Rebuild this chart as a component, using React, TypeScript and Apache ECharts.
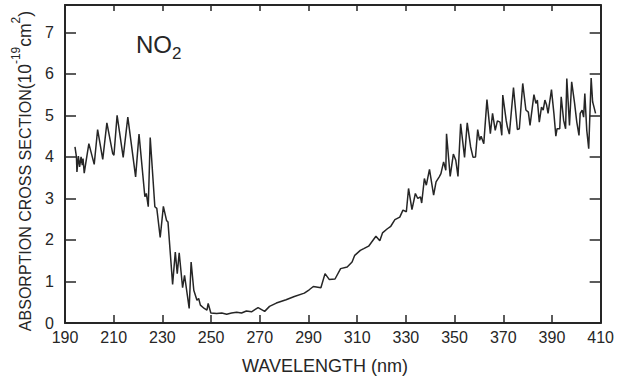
import React, { useEffect, useRef } from "react";
import * as echarts from "echarts";

// Wavelength (nm) and absorption cross section (10^-19 cm^2)
const wavelength: number[] = [
  194.1, 194.7, 194.9, 195.5, 196.0, 196.6, 197.1, 197.4, 197.9, 198.5, 199.8, 202.0, 203.4, 205.5, 207.2,
  209.6, 210.1, 211.4, 213.9, 215.8, 219.0, 220.4, 222.8, 223.4, 224.2, 225.0, 226.9, 227.7, 229.1, 230.4,
  231.7, 232.3, 234.2, 235.3, 236.1, 236.9, 238.3, 239.1, 241.0, 241.8, 242.9, 244.2, 244.9, 245.6, 247.2,
  248.3, 248.8, 249.9, 252.3, 254.4, 256.4, 258.4, 260.5, 262.5, 264.5, 266.6, 269.3, 272.0, 274.0, 276.8,
  280.8, 284.2, 288.3, 290.3, 292.0, 295.1, 296.8, 298.5, 300.9, 303.2, 305.9, 307.9, 309.0, 311.3, 312.7,
  314.7, 317.7, 319.3, 320.4, 322.4, 323.8, 325.5, 327.5, 328.8, 330.2, 331.1, 332.5, 333.9, 334.9, 336.0,
  336.5, 337.6, 338.4, 339.7, 341.4, 342.4, 343.7, 344.4, 345.5, 346.4, 346.7, 348.2, 349.5, 350.5, 351.4,
  352.5, 354.1, 355.2, 356.6, 357.6, 358.6, 359.5, 360.3, 360.9, 362.0, 363.3, 364.7, 365.6, 366.7, 367.6,
  368.7, 369.4, 369.8, 371.2, 371.7, 372.5, 374.2, 375.8, 376.6, 378.0, 379.3, 380.3, 381.0, 382.6, 383.4,
  384.0, 384.8, 385.7, 386.4, 387.1, 387.8, 388.4, 389.8, 390.8, 391.6, 392.1, 393.2, 393.8, 394.8, 395.6,
  396.1, 397.2, 398.1, 399.3, 400.2, 401.1, 401.6, 402.4, 403.0, 403.5, 404.3, 405.1, 406.1, 406.7, 407.4,
  407.9,
];
const crossSection: number[] = [
  4.24, 4.0, 3.64, 4.02, 3.76, 4.0, 3.8, 3.96, 3.61, 3.84, 4.32, 3.82, 4.66, 3.94, 4.82,
  4.08, 4.04, 5.0, 3.99, 4.96, 3.52, 4.55, 3.04, 3.12, 2.8, 4.47, 2.8, 2.76, 2.06, 2.81,
  2.47, 2.43, 0.93, 1.71, 1.19, 1.69, 0.85, 1.15, 0.35, 1.47, 0.79, 0.55, 0.59, 0.43, 0.35,
  0.31, 0.47, 0.24, 0.23, 0.24, 0.21, 0.24, 0.26, 0.24, 0.29, 0.27, 0.37, 0.28, 0.4, 0.48,
  0.56, 0.64, 0.72, 0.8, 0.88, 0.85, 1.19, 1.05, 1.06, 1.31, 1.35, 1.47, 1.63, 1.75, 1.79,
  1.85, 2.09, 1.98, 2.17, 2.27, 2.33, 2.49, 2.55, 2.72, 2.68, 3.24, 2.73, 3.12, 3.0, 3.04,
  2.89, 3.48, 3.32, 3.7, 3.08, 3.4, 3.52, 3.6, 3.88, 3.68, 4.56, 3.53, 4.07, 3.92, 3.53,
  4.8, 3.99, 4.82, 4.24, 3.99, 4.0, 4.66, 4.4, 4.5, 4.32, 5.38, 4.56, 5.05, 4.64, 4.87,
  4.84, 4.52, 5.49, 4.88, 4.72, 4.55, 5.67, 4.66, 4.68, 5.77, 5.13, 5.08, 4.76, 5.5, 5.29,
  5.37, 4.84, 5.2, 5.13, 5.37, 5.25, 5.05, 5.62, 5.05, 4.5, 4.68, 4.68, 5.45, 4.88, 4.68,
  5.89, 4.76, 5.81, 5.29, 4.84, 4.52, 5.05, 5.13, 4.96, 5.53, 4.64, 4.2, 5.9, 5.33, 5.17,
  5.05,
];
const xTicks: number[] = [190, 210, 230, 250, 270, 290, 310, 330, 350, 370, 390, 410];
const yTicks: number[] = [0, 1, 2, 3, 4, 5, 6, 7];

const INK = "#262626";
const FONT = "'Liberation Sans', Arial, sans-serif";

export default function App() {
  const ref = useRef<HTMLDivElement>(null);
  useEffect(() => {
    document.body.style.margin = "0";
    if (!ref.current) return;
    const chart = echarts.init(ref.current, undefined, { renderer: "svg" });
    const data = wavelength.map((w, i) => [w, crossSection[i]]);
    const xBase = {
      type: "value" as const,
      min: 190,
      max: 410,
      splitLine: { show: false },
      axisLine: { show: true, onZero: false, lineStyle: { color: INK, width: 2 } },
    };
    const yBase = {
      type: "value" as const,
      min: 0,
      max: 7.66,
      splitLine: { show: false },
      axisLine: { show: true, onZero: false, lineStyle: { color: INK, width: 2 } },
    };
    chart.setOption({
      animation: false,
      backgroundColor: "#ffffff",
      grid: { left: 65, right: 10, top: 5, bottom: 55 },
      xAxis: [
        {
          ...xBase,
          position: "bottom",
          axisTick: { show: true, inside: true, length: 8, customValues: xTicks, lineStyle: { color: INK, width: 1.5 } },
          axisLabel: { show: true, customValues: xTicks, margin: 6, fontSize: 16, color: INK, fontFamily: FONT },
        },
        {
          ...xBase,
          position: "top",
          axisTick: { show: true, inside: true, length: 6, customValues: xTicks, lineStyle: { color: INK, width: 1.5 } },
          axisLabel: { show: false },
        },
      ],
      yAxis: [
        {
          ...yBase,
          position: "left",
          axisTick: { show: true, inside: true, length: 11, customValues: yTicks, lineStyle: { color: INK, width: 1.5 } },
          axisLabel: { show: true, customValues: yTicks, margin: 11, fontSize: 16, color: INK, fontFamily: FONT },
        },
        {
          ...yBase,
          position: "right",
          axisTick: { show: true, inside: true, length: 11, customValues: yTicks, lineStyle: { color: INK, width: 1.5 } },
          axisLabel: { show: false },
        },
      ],
      graphic: [
        {
          type: "text",
          x: 136,
          y: 32,
          style: {
            text: "{n|NO}{s|2}",
            align: "left",
            verticalAlign: "top",
            textAlign: "left",
            textVerticalAlign: "top",
            fill: INK,
            rich: {
              n: { fontSize: 24, lineHeight: 24, verticalAlign: "top", fontFamily: FONT, fill: INK, color: INK },
              s: { fontSize: 17, lineHeight: 30, verticalAlign: "bottom", fontFamily: FONT, fill: INK, color: INK },
            },
          },
        },
        {
          type: "text",
          x: 325,
          y: 366,
          style: {
            text: "WAVELENGTH (nm)",
            font: `18px ${FONT}`,
            align: "center",
            verticalAlign: "middle",
            textAlign: "center",
            textVerticalAlign: "middle",
            fill: INK,
          },
        },
        {
          type: "text",
          x: 25,
          y: 171,
          rotation: Math.PI / 2,
          style: {
            text: "{m|ABSORPTION CROSS SECTION}{p|(10}{s|-19}{p|cm}{s|2}{p|)}",
            align: "center",
            verticalAlign: "middle",
            textAlign: "center",
            textVerticalAlign: "middle",
            fill: INK,
            rich: {
              m: { fontSize: 16, lineHeight: 30, fontFamily: FONT, fill: INK, color: INK },
              p: { fontSize: 17.5, lineHeight: 30, fontFamily: FONT, fill: INK, color: INK },
              s: { fontSize: 12, lineHeight: 8, verticalAlign: "top", fontFamily: FONT, fill: INK, color: INK },
            },
          },
        },
      ],
      series: [
        {
          type: "line",
          data,
          xAxisIndex: 0,
          yAxisIndex: 0,
          symbol: "none",
          showSymbol: false,
          lineStyle: { color: INK, width: 1.5 },
        },
      ],
    });
    return () => chart.dispose();
  }, []);
  return (
    <div
      ref={ref}
      style={{ position: "absolute", left: 0, top: 0, width: 617, height: 378 }}
    />
  );
}
